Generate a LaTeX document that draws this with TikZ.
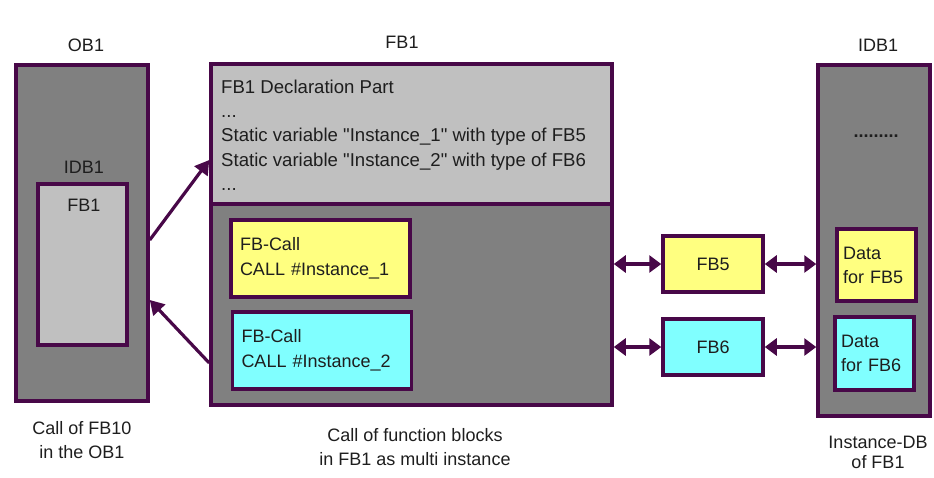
\documentclass[tikz,border=0pt]{standalone}
\usepackage{fontspec}
\setmainfont{Liberation Sans}
\usetikzlibrary{arrows.meta}
\definecolor{frameColor}{RGB}{72,8,72}
\definecolor{darkFill}{RGB}{128,128,128}
\definecolor{lightFill}{RGB}{192,192,192}
\definecolor{callYellow}{RGB}{255,255,128}
\definecolor{callCyan}{RGB}{128,255,255}
\definecolor{textGrey}{RGB}{30,30,30}

\begin{document}
\begin{tikzpicture}[x=1pt, y=-1pt, font=\fontsize{18}{24}\selectfont, text=textGrey]
\tikzstyle{boxStyle}=[draw=frameColor, line width=3.5pt, shape=rectangle, inner sep=0pt]
\tikzstyle{darkStyle}=[boxStyle, fill=darkFill]
\tikzstyle{lightStyle}=[boxStyle, fill=lightFill]
\tikzstyle{callStyle}=[boxStyle, align=left, inner xsep=9pt, text width=161pt, minimum height=77pt, font=\fontsize{18}{25}\selectfont]
\tikzstyle{dataStyle}=[boxStyle, align=left, inner xsep=6pt, text width=67pt, font=\fontsize{18}{24}\selectfont]
\tikzstyle{fbStyle}=[boxStyle, minimum width=100pt, minimum height=56pt]
\tikzstyle{declStyle}=[anchor=base west, inner sep=0pt, font=\fontsize{18.6}{24}\selectfont]
\tikzstyle{arrowStyle}=[draw=frameColor, line width=3.2pt, -{Triangle[length=14pt,width=16pt]}]
\tikzstyle{dblArrowStyle}=[draw=frameColor, line width=3.5pt, {Triangle[length=12pt,width=17pt]}-{Triangle[length=12pt,width=17pt]}]
\fill[white] (0,0) rectangle (934,477);
\useasboundingbox (0,0) rectangle (934,477);

% OB1 with the instance DB
\node[darkStyle, minimum width=132pt, minimum height=336pt] (ob1) at (82,233) {};
\node (ob1Label) at (86,45) {OB1};
\node[lightStyle, minimum width=89pt, minimum height=161pt] (idbBox) at (82.5,264.5) {};
\node (idbLabel) at (84,167) {IDB1};
\node (fbInner) at (84,205) {FB1};
\node[align=center] (ob1Caption) at (82,440) {Call of FB10\\in the OB1};

% FB1
\node[lightStyle, minimum width=401pt, minimum height=140pt] (decl) at (411.5,134) {};
\node[darkStyle, minimum width=401pt, minimum height=201pt] (body) at (411.5,304.5) {};
\node (fb1Label) at (402,42) {FB1};
\node[declStyle] (declA) at (221,93) {FB1 Declaration Part};
\node[declStyle] (declB) at (221,117) {...};
\node[declStyle] (declC) at (221,141) {Static variable \textquotedbl Instance\_1\textquotedbl{} with type of FB5};
\node[declStyle] (declD) at (221,166) {Static variable \textquotedbl Instance\_2\textquotedbl{} with type of FB6};
\node[declStyle] (declE) at (221,190) {...};
\node[callStyle, fill=callYellow] (call1) at (320.5,258.5) {FB-Call\\CALL \#Instance\_1};
\node[callStyle, fill=callCyan] (call2) at (322,350.5) {FB-Call\\CALL \#Instance\_2};
\node[align=center] (fb1Caption) at (415,447.5) {Call of function blocks\\in FB1 as multi instance};

% FB5 and FB6
\node[fbStyle, fill=callYellow] (fb5) at (713,264) {FB5};
\node[fbStyle, fill=callCyan] (fb6) at (713,347) {FB6};

% IDB1
\node[darkStyle, minimum width=112pt, minimum height=351pt] (idb1) at (874,240.5) {};
\node (idb1Label) at (878,45) {IDB1};
\node[anchor=base] (idbDots) at (876,137) {\textbf{.........}};
\node[dataStyle, fill=callYellow, minimum height=72pt] (data5) at (876.5,265) {Data\\for FB5};
\node[dataStyle, fill=callCyan, minimum height=73pt] (data6) at (874.5,353.5) {Data\\for FB6};
\node[align=center, font=\fontsize{18}{20}\selectfont] (idbCaption) at (878,452) {Instance-DB\\of FB1};

% connectors
\draw[arrowStyle] ([yshift=-7pt]ob1.east) -- ([yshift=-26pt]decl.west);
\draw[arrowStyle] ([yshift=-58.5pt]body.west) -- ([yshift=-67pt]ob1.east);
\draw[dblArrowStyle] (body.east |- fb5.west) -- (fb5.west);
\draw[dblArrowStyle] (body.east |- fb6.west) -- (fb6.west);
\draw[dblArrowStyle] (fb5.east) -- (fb5.east -| idb1.west);
\draw[dblArrowStyle] (fb6.east) -- (fb6.east -| idb1.west);
\end{tikzpicture}
\end{document}
